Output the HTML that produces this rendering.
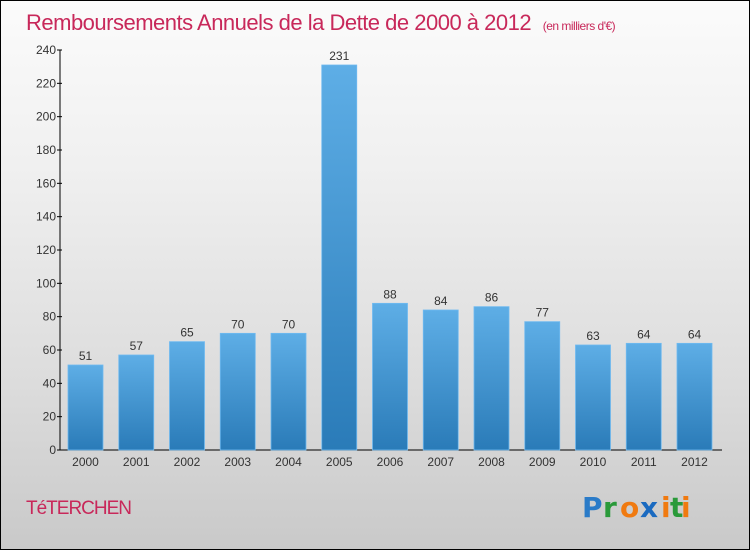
<!DOCTYPE html>
<html><head><meta charset="utf-8"><style>
html,body{margin:0;padding:0}
body{width:750px;height:550px;overflow:hidden;font-family:"Liberation Sans",sans-serif}
#wrap{position:absolute;left:0;top:0;width:748px;height:548px;border:1px solid #000;background:linear-gradient(#fbfbfb,#f0f0f0 30%,#dcdcdc 70%,#c9c9c9)}
</style></head><body>
<div id="wrap">
<svg id="chart" width="750" height="550" style="position:absolute;left:-1px;top:-1px">
<defs>
<linearGradient id="bg" x1="0" y1="0" x2="0" y2="1"><stop offset="0" stop-color="#5eaee6"/><stop offset="1" stop-color="#2a7bb8"/></linearGradient>
</defs>
<text x="26" y="30" font-size="22" fill="#c8285a" style="letter-spacing:-0.5px">Remboursements Annuels de la Dette de 2000 à 2012 <tspan font-size="12" dx="6">(en milliers d'€)</tspan></text>
<g id="grid"></g>
<g id="bars"></g>
<text x="26" y="514" font-size="19" fill="#c8285a" style="letter-spacing:-1px">TéTERCHEN</text>
<g font-size="28" font-family="DejaVu Sans, sans-serif" font-weight="bold">
<text x="582" y="517" fill="#2a7bc8">P</text><text x="603" y="517" fill="#2a9a3a">r</text><text x="620" y="517" fill="#f07a10">o</text><text x="640" y="517" fill="#1a6ac0">x</text><text x="661" y="517" fill="#f07a10">i</text><text x="670" y="517" fill="#2a9a3a">t</text><text x="681" y="517" fill="#f07a10">i</text>
</g>
</svg>
</div>
<script>
const categories=["2000","2001","2002","2003","2004","2005","2006","2007","2008","2009","2010","2011","2012"];
const values=[51,57,65,70,70,231,88,84,86,77,63,64,64];
const yTicks=[0,20,40,60,80,100,120,140,160,180,200,220,240];
const NS="http://www.w3.org/2000/svg";
const x0=60,x1=722,yBase=450,yTop=50,yMax=240;
const y=v=>yBase-(v/yMax)*(yBase-yTop);
const step=50.75,bw=35;
const xc=i=>85.5+i*step;
function mk(t,a){const e=document.createElementNS(NS,t);for(const k in a)e.setAttribute(k,a[k]);return e;}
const g=document.getElementById('grid'),b=document.getElementById('bars');
let ax=mk('line',{x1:x0,y1:yTop,x2:x0,y2:yBase,stroke:'#000','stroke-width':1});


g.appendChild(ax);
let xa=mk('line',{x1:x0,y1:yBase,x2:x1,y2:yBase,stroke:'#000','stroke-width':1});


g.appendChild(xa);
yTicks.forEach(v=>{
 const t=mk('line',{x1:x0-3,y1:y(v),x2:x0+2,y2:y(v),stroke:'#000'});
 
 
 g.appendChild(t);
 const l=mk('text',{x:x0-4,y:y(v)+4,'font-size':12,'text-anchor':'end',fill:'#333'});
 l.textContent=v;
 
 
 g.appendChild(l);
});
categories.forEach((c,i)=>{
 const r=mk('rect',{x:xc(i)-bw/2,y:y(values[i]),width:bw,height:yBase-y(values[i]),fill:'url(#bg)',stroke:'#6fbaf0','stroke-width':0.8});
 
 
 b.appendChild(r);
 const vl=mk('text',{x:xc(i),y:y(values[i])-5,'font-size':12,'text-anchor':'middle',fill:'#333'});
 vl.textContent=values[i];
 
 
 b.appendChild(vl);
 const xl=mk('text',{x:xc(i),y:466,'font-size':12,'text-anchor':'middle',fill:'#333'});
 xl.textContent=c;
 
 
 b.appendChild(xl);
});
</script>
</body></html>
